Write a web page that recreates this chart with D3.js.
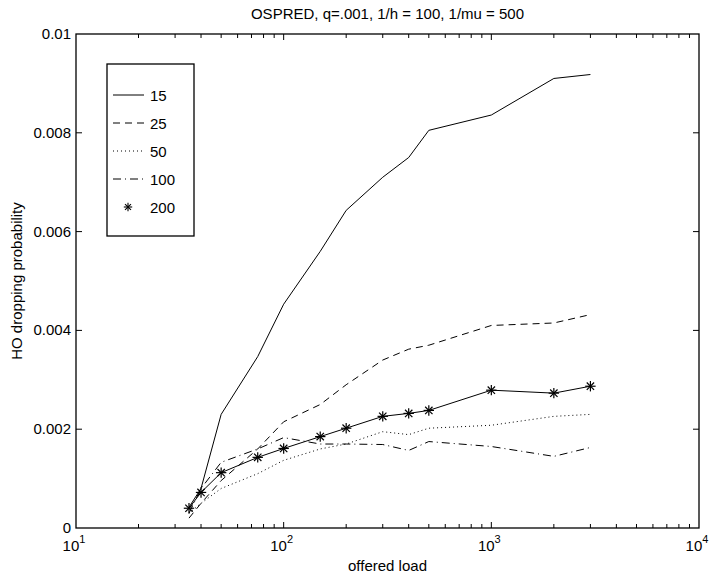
<!DOCTYPE html>
<html>
<head>
<meta charset="utf-8">
<script src="https://cdn.jsdelivr.net/npm/d3@7"></script>
<style>
  body { margin: 0; background: #fff; }
  text { font-family: "Liberation Sans", Arial, Helvetica, sans-serif; fill: #000; }
</style>
</head>
<body>
<div id="chart"></div>
<script>
// offered load values (x) shared by all curves
const loads = [35, 40, 50, 75, 100, 150, 200, 300, 400, 500, 1000, 2000, 3000];
// HO dropping probability per curve
const p15  = [0.00042, 0.0008, 0.0023, 0.00347, 0.00453, 0.0056, 0.00643, 0.0071, 0.0075, 0.00805, 0.00836, 0.0091, 0.00918];
const p25  = [0.0002, 0.0005, 0.00096, 0.0016, 0.00215, 0.0025, 0.0029, 0.0034, 0.00362, 0.0037, 0.0041, 0.00415, 0.00432];
const p50  = [0.0003, 0.0005, 0.0008, 0.0011, 0.00137, 0.0016, 0.0017, 0.00195, 0.00189, 0.00202, 0.00208, 0.00226, 0.0023];
const p100 = [0.0003, 0.0008, 0.00133, 0.0016, 0.00183, 0.0017, 0.0017, 0.00169, 0.00157, 0.00175, 0.00165, 0.00145, 0.00163];
const p200 = [0.0004, 0.00072, 0.00112, 0.00143, 0.00161, 0.00185, 0.00202, 0.00226, 0.00232, 0.00238, 0.00279, 0.00273, 0.00287];
const seriesNames = ["15", "25", "50", "100", "200"];
const yTicks = [0, 0.002, 0.004, 0.006, 0.008, 0.01];
const yTickLabels = ["0", "0.002", "0.004", "0.006", "0.008", "0.01"];
const xDecades = [10, 100, 1000, 10000];

const W = 710, H = 577;
const axL = 76, axR = 699, axT = 34, axB = 528;

const svg = d3.select("#chart").append("svg")
  .attr("width", W)
  .attr("height", H);

const x = d3.scaleLog().domain([10, 10000]).range([axL, axR]);
const y = d3.scaleLinear().domain([0, 0.01]).range([axB, axT]);

// ticks (inside, both sides like matlab)
const tickG = svg.append("g").attr("stroke", "#000").attr("stroke-width", 1);
x.ticks().forEach(function(t) {
  let major = xDecades.indexOf(t) >= 0;
  let len = major ? 6 : 4;
  if (t == 10 || t == 10000) return;
  tickG.append("line").attr("x1", x(t)).attr("x2", x(t)).attr("y1", axB).attr("y2", axB - len);
  tickG.append("line").attr("x1", x(t)).attr("x2", x(t)).attr("y1", axT).attr("y2", axT + len);
});
yTicks.forEach(function(t) {
  if (t == 0 || t == 0.01) return;
  tickG.append("line").attr("x1", axL).attr("x2", axL + 6).attr("y1", y(t)).attr("y2", y(t));
  tickG.append("line").attr("x1", axR).attr("x2", axR - 6).attr("y1", y(t)).attr("y2", y(t));
});

// box
svg.append("rect")
  .attr("x", axL).attr("y", axT)
  .attr("width", axR - axL).attr("height", axB - axT)
  .attr("fill", "none").attr("stroke", "#000").attr("stroke-width", 1.3);

// y tick labels
svg.append("g").selectAll("text")
  .data(yTicks)
  .enter().append("text")
  .attr("x", axL - 5)
  .attr("y", d => y(d) + 5)
  .attr("text-anchor", "end")
  .style("font-size", "15px")
  .text((d, i) => yTickLabels[i]);

// x tick labels 10^n
xDecades.forEach(function(t) {
  let tx = svg.append("text")
    .attr("x", x(t) - 2)
    .attr("y", axB + 23)
    .attr("text-anchor", "middle")
    .style("font-size", "15px");
  tx.append("tspan").text("10");
  tx.append("tspan").attr("dy", -8).style("font-size", "11px").text(Math.round(Math.log10(t)));
});

// title and labels
svg.append("text")
  .attr("x", (axL + axR) / 2)
  .attr("y", 19)
  .attr("text-anchor", "middle")
  .style("font-size", "15px")
  .text("OSPRED, q=.001, 1/h = 100, 1/mu = 500");

svg.append("text")
  .attr("x", (axL + axR) / 2)
  .attr("y", 571)
  .attr("text-anchor", "middle")
  .style("font-size", "15px")
  .text("offered load");

svg.append("text")
  .attr("transform", "translate(22," + (axT + axB) / 2 + ") rotate(-90)")
  .attr("text-anchor", "middle")
  .style("font-size", "15px")
  .text("HO dropping probability");

// curves
const styles = [
  { data: p15,  dash: null },
  { data: p25,  dash: "7,5" },
  { data: p50,  dash: "1,3" },
  { data: p100, dash: "8,4,1,4" },
  { data: p200, dash: null }
];

const line = d3.line()
  .x((d, i) => x(loads[i]))
  .y(d => y(d));

styles.forEach(function(s) {
  let path = svg.append("path")
    .datum(s.data)
    .attr("d", line)
    .attr("fill", "none")
    .attr("stroke", "#000")
    .attr("stroke-width", 1);
  if (s.dash) path.attr("stroke-dasharray", s.dash);
});

// asterisk marker
function star(g, cx, cy, r) {
  let d = r * 0.707;
  g.append("line").attr("x1", cx - r).attr("x2", cx + r).attr("y1", cy).attr("y2", cy);
  g.append("line").attr("x1", cx).attr("x2", cx).attr("y1", cy - r).attr("y2", cy + r);
  g.append("line").attr("x1", cx - d).attr("x2", cx + d).attr("y1", cy - d).attr("y2", cy + d);
  g.append("line").attr("x1", cx - d).attr("x2", cx + d).attr("y1", cy + d).attr("y2", cy - d);
}
const starG = svg.append("g").attr("stroke", "#000").attr("stroke-width", 1.2);
p200.forEach(function(v, i) {
  star(starG, x(loads[i]), y(v), 5.2);
});

// legend
const lx = 107, ly = 64, lw = 87, lh = 172;
const legend = svg.append("g");
legend.append("rect")
  .attr("x", lx).attr("y", ly).attr("width", lw).attr("height", lh)
  .attr("fill", "#fff").attr("stroke", "#000").attr("stroke-width", 1.3);
seriesNames.forEach(function(name, i) {
  let yy = 95 + i * 28;
  if (i < 4) {
    let l = legend.append("line")
      .attr("x1", 113).attr("x2", 144).attr("y1", yy).attr("y2", yy)
      .attr("stroke", "#000").attr("stroke-width", 1);
    if (styles[i].dash) l.attr("stroke-dasharray", styles[i].dash);
  } else {
    star(legend.append("g").attr("stroke", "#000").attr("stroke-width", 1.1), 128, yy, 4.2);
  }
  legend.append("text")
    .attr("x", 150).attr("y", yy + 6)
    .style("font-size", "15px")
    .text(name);
});
</script>
</body>
</html>
